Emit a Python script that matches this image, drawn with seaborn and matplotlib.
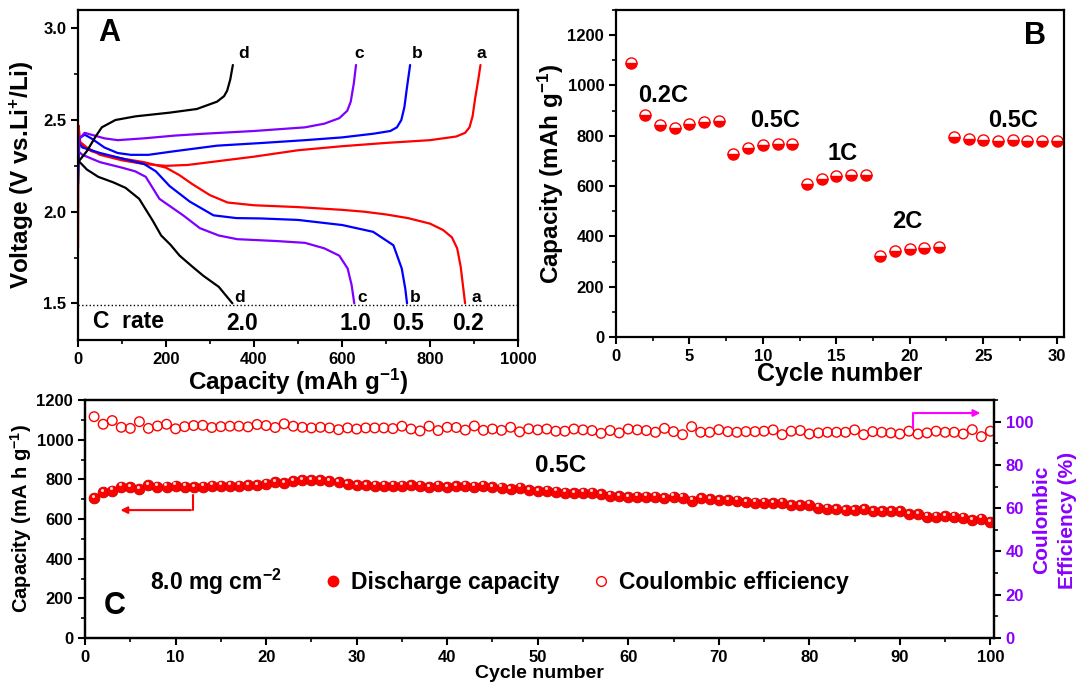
import numpy as np
import pandas as pd
import matplotlib
matplotlib.use('Agg')
import matplotlib.pyplot as plt
import matplotlib.transforms as mtransforms
from matplotlib.ticker import MultipleLocator
from matplotlib.lines import Line2D
import seaborn as sns

# ---- panel A: charge / discharge profiles (mAh g-1, V) ----
cap_a_dis = [0, 2, 10, 30, 60, 100, 150, 200, 230, 260, 300, 340, 400, 500, 600, 650, 700, 750, 800, 830, 850, 862, 870, 875, 880]
volt_a_dis = [2.40, 2.38, 2.36, 2.33, 2.31, 2.29, 2.27, 2.24, 2.20, 2.15, 2.09, 2.05, 2.035, 2.025, 2.01, 2.0, 1.985, 1.965, 1.935, 1.90, 1.86, 1.80, 1.70, 1.60, 1.50]
cap_a_chg = [0, 1, 5, 20, 50, 100, 150, 200, 250, 300, 400, 500, 600, 700, 800, 860, 880, 890, 897, 903, 910, 915]
volt_a_chg = [1.80, 2.47, 2.38, 2.35, 2.31, 2.28, 2.26, 2.25, 2.255, 2.27, 2.30, 2.335, 2.357, 2.375, 2.39, 2.41, 2.43, 2.46, 2.52, 2.62, 2.72, 2.80]

cap_b_dis = [0, 10, 50, 100, 150, 177, 208, 254, 308, 360, 416, 500, 601, 671, 717, 736, 744, 748]
volt_b_dis = [2.38, 2.35, 2.32, 2.29, 2.26, 2.22, 2.14, 2.055, 1.98, 1.965, 1.963, 1.955, 1.927, 1.89, 1.817, 1.69, 1.58, 1.50]
cap_b_chg = [0, 3, 15, 30, 60, 90, 120, 160, 220, 316, 420, 516, 600, 671, 710, 725, 735, 742, 748, 755]
volt_b_chg = [2.15, 2.40, 2.42, 2.40, 2.35, 2.32, 2.31, 2.31, 2.33, 2.36, 2.375, 2.39, 2.405, 2.425, 2.44, 2.46, 2.50, 2.57, 2.68, 2.80]

cap_c_dis = [0, 10, 50, 100, 130, 154, 185, 239, 277, 320, 362, 450, 516, 560, 594, 613, 622, 628]
volt_c_dis = [2.33, 2.31, 2.27, 2.24, 2.22, 2.19, 2.07, 1.98, 1.91, 1.87, 1.85, 1.84, 1.83, 1.80, 1.76, 1.69, 1.60, 1.50]
cap_c_chg = [0, 4, 15, 30, 60, 90, 150, 220, 285, 400, 516, 560, 594, 612, 620, 627, 632]
volt_c_chg = [2.28, 2.40, 2.43, 2.42, 2.40, 2.39, 2.40, 2.415, 2.425, 2.44, 2.46, 2.48, 2.51, 2.55, 2.60, 2.70, 2.80]

cap_d_dis = [0, 20, 46, 80, 108, 139, 170, 189, 210, 231, 260, 285, 320, 351]
volt_d_dis = [2.28, 2.23, 2.19, 2.16, 2.13, 2.07, 1.95, 1.87, 1.82, 1.76, 1.70, 1.65, 1.59, 1.50]
cap_d_chg = [0, 20, 40, 54, 85, 131, 208, 270, 316, 332, 339, 346, 352]
volt_d_chg = [2.27, 2.33, 2.41, 2.46, 2.50, 2.52, 2.54, 2.56, 2.60, 2.63, 2.66, 2.72, 2.80]

curve_names = ['a', 'b', 'c', 'd']
rate_labels = ['0.2', '0.5', '1.0', '2.0']
top_label_x = [916, 770, 640, 376]
bottom_label_x = [906, 767, 646, 368]
rate_label_x = [887, 750, 630, 374]

# ---- panel B: rate capability ----
rate_cycles = list(range(1, 31))
rate_capacity = [1090, 882, 842, 830, 848, 856, 858, 728, 750, 762, 766, 768,
                 608, 628, 640, 643, 645, 323, 342, 350, 355, 358,
                 795, 786, 783, 778, 783, 780, 779, 780]
rate_text = ['0.2C', '0.5C', '1C', '2C', '0.5C']
rate_text_x = [3.2, 10.8, 15.4, 19.8, 27.0]
rate_text_y = [960, 860, 730, 460, 860]

# ---- panel C: long cycling at 0.5C ----
cycles = list(range(1, 101))
discharge = [707, 735, 743, 763, 762, 751, 771, 763, 763, 768, 763, 762, 763, 768, 768, 768, 768, 771, 771, 779,
             785, 783, 791, 795, 795, 795, 791, 785, 775, 771, 771, 768, 768, 768, 768, 771, 768, 762, 768, 762,
             765, 768, 763, 768, 762, 758, 751, 758, 746, 741, 743, 738, 733, 730, 733, 733, 727, 718, 717, 710,
             713, 713, 713, 705, 713, 708, 693, 705, 700, 696, 696, 693, 686, 683, 683, 680, 683, 670, 670, 673,
             658, 653, 649, 646, 646, 649, 641, 641, 638, 638, 626, 626, 612, 612, 616, 612, 607, 596, 602, 584]
efficiency = [102.3, 98.8, 100.5, 97.4, 96.9, 100.0, 96.9, 98.0, 98.8, 96.7, 97.7, 98.2, 98.3, 97.3, 97.7, 97.9, 97.9, 97.6, 98.7, 98.2,
              97.3, 99.0, 97.9, 97.4, 97.1, 97.4, 97.1, 96.3, 97.1, 96.6, 97.1, 97.1, 97.1, 96.8, 97.9, 96.6, 95.7, 97.9, 95.9, 97.4,
              97.3, 96.1, 98.0, 96.0, 96.6, 96.0, 97.4, 95.3, 96.7, 96.2, 96.6, 95.6, 95.6, 96.6, 96.2, 95.9, 94.6, 95.9, 94.8, 96.6,
              96.2, 95.9, 95.1, 96.9, 95.4, 94.0, 97.7, 95.1, 95.1, 96.3, 95.4, 95.1, 95.4, 95.4, 95.6, 96.2, 94.0, 95.6, 95.9, 94.3,
              94.8, 95.1, 95.1, 95.1, 96.2, 94.0, 95.4, 95.1, 94.8, 94.3, 95.6, 94.3, 94.8, 95.6, 95.1, 95.1, 94.3, 96.3, 93.1, 95.6]

RED = '#ff0000'
BLUE = '#0000ff'
PURPLE = '#8000ff'
VIOLET = '#8a00ff'

sns.set_style('ticks')
plt.rcParams['font.family'] = ['Liberation Sans', 'DejaVu Sans']
plt.rcParams['font.weight'] = 'bold'
plt.rcParams['axes.labelweight'] = 'bold'
plt.rcParams['mathtext.fontset'] = 'custom'
plt.rcParams['mathtext.rm'] = 'Liberation Sans:bold'
plt.rcParams['mathtext.bf'] = 'Liberation Sans:bold'
plt.rcParams['mathtext.default'] = 'rm'
plt.rcParams['axes.linewidth'] = 1.6
for key in ['text.color', 'axes.labelcolor', 'axes.edgecolor', 'xtick.color', 'ytick.color']:
    plt.rcParams[key] = 'black'


def style_axis(ax, size=12):
    ax.tick_params(which='major', direction='out', length=5, width=1.5, labelsize=size)
    ax.tick_params(which='minor', direction='out', length=3, width=1.2)
    for lab in ax.get_xticklabels() + ax.get_yticklabels():
        lab.set_fontweight('bold')


fig = plt.figure(figsize=(10.78, 6.89), dpi=100)

# ---------------- A ----------------
axA = fig.add_axes([0.0724, 0.5065, 0.408, 0.479])
profiles = [
    (cap_a_dis, volt_a_dis, cap_a_chg, volt_a_chg, RED),
    (cap_b_dis, volt_b_dis, cap_b_chg, volt_b_chg, BLUE),
    (cap_c_dis, volt_c_dis, cap_c_chg, volt_c_chg, PURPLE),
    (cap_d_dis, volt_d_dis, cap_d_chg, volt_d_chg, 'black'),
]
for cd, vd, cc, vc, col in profiles:
    sns.lineplot(x=cd, y=vd, sort=False, color=col, lw=1.6, ax=axA)
    sns.lineplot(x=cc, y=vc, sort=False, color=col, lw=1.6, ax=axA)
axA.axhline(1.49, color='black', ls=':', lw=1.0)
for i, name in enumerate(curve_names):
    axA.text(top_label_x[i], 2.86, name, fontsize=12.5, fontweight='bold', ha='center', va='center')
    axA.text(bottom_label_x[i], 1.53, name, fontsize=12.5, fontweight='bold', ha='center', va='center')
    axA.text(rate_label_x[i], 1.39, rate_labels[i], fontsize=16.5, fontweight='bold', ha='center', va='center')
axA.text(35, 1.40, 'C  rate', fontsize=16.5, fontweight='bold', ha='left', va='center')
axA.text(0.045, 0.975, 'A', transform=axA.transAxes, fontsize=22, fontweight='bold', va='top')
axA.set_xlim(0, 1000)
axA.set_ylim(1.3, 3.1)
axA.xaxis.set_major_locator(MultipleLocator(200))
axA.xaxis.set_minor_locator(MultipleLocator(100))
axA.yaxis.set_minor_locator(MultipleLocator(0.25))
axA.set_yticks([1.5, 2.0, 2.5, 3.0])
axA.set_xlabel('Capacity (mAh g$^{-1}$)', fontsize=17.5, fontweight='bold', labelpad=0)
axA.set_ylabel('Voltage (V vs.Li$^{+}$/Li)', fontsize=17.5, fontweight='bold', labelpad=5)
style_axis(axA)

# ---------------- B ----------------
axB = fig.add_axes([0.5714, 0.5109, 0.4156, 0.4746])
sns.lineplot(x=rate_cycles, y=rate_capacity, ax=axB, linestyle='', marker='o',
             markersize=8, fillstyle='bottom', markerfacecolor=RED,
             markerfacecoloralt='white', markeredgecolor=RED, markeredgewidth=1.0)
for t, x, y in zip(rate_text, rate_text_x, rate_text_y):
    axB.text(x, y, t, fontsize=17, fontweight='bold', ha='center', va='center')
axB.text(0.96, 0.965, 'B', transform=axB.transAxes, fontsize=22, fontweight='bold', ha='right', va='top')
axB.set_xlim(0, 30.5)
axB.set_ylim(0, 1300)
axB.xaxis.set_major_locator(MultipleLocator(5))
axB.xaxis.set_minor_locator(MultipleLocator(2.5))
axB.yaxis.set_major_locator(MultipleLocator(200))
axB.yaxis.set_minor_locator(MultipleLocator(100))
axB.set_xlabel('Cycle number', fontsize=18, fontweight='bold', labelpad=-1)
axB.set_ylabel('Capacity (mAh g$^{-1}$)', fontsize=17.5, fontweight='bold', labelpad=1)
style_axis(axB)

# ---------------- C ----------------
axC = fig.add_axes([0.0789, 0.074, 0.8432, 0.3454])
axC2 = axC.twinx()
sns.scatterplot(x=cycles, y=discharge, ax=axC, color=RED, s=60, edgecolor='#d00000', linewidth=0.6, zorder=3)
hl = mtransforms.offset_copy(axC.transData, fig=fig, x=-0.8, y=1.6, units='points')
sns.scatterplot(x=cycles, y=discharge, ax=axC, color='#ffd0d0', s=5, linewidth=0, transform=hl, zorder=4)
sns.scatterplot(x=cycles, y=efficiency, ax=axC2, facecolor='none', edgecolor=RED, s=48, linewidth=1.0, marker='o')

# guide arrows
axC.plot([11.9, 11.9], [720, 645], color=RED, lw=1.5)
axC.annotate('', xy=(3.6, 645), xytext=(12.0, 645),
             arrowprops=dict(arrowstyle='-|>', color=RED, lw=1.5, mutation_scale=10))
axC2.plot([91.4, 91.4], [97, 104], color='#ff00ff', lw=1.5)
axC2.annotate('', xy=(99.2, 104), xytext=(91.3, 104),
              arrowprops=dict(arrowstyle='-|>', color='#ff00ff', lw=1.5, mutation_scale=10))

axC.text(52.5, 872, '0.5C', fontsize=17.5, fontweight='bold', ha='center', va='center')
axC.text(3.3, 160, 'C', fontsize=22, fontweight='bold', ha='center', va='center')
axC.text(7.2, 282, '8.0 mg cm$^{-2}$', fontsize=16.5, fontweight='bold', ha='left', va='center')

handles = [Line2D([], [], ls='', marker='o', color=RED, markersize=7.5),
           Line2D([], [], ls='', marker='o', mfc='none', mec=RED, markersize=7, mew=1.0)]
leg = axC.legend(handles, ['Discharge capacity', 'Coulombic efficiency'], ncol=2,
                 loc='center left', bbox_to_anchor=(0.24, 0.235), frameon=False,
                 prop={'size': 16.5, 'weight': 'bold'}, handlelength=0.8, handletextpad=0.4,
                 columnspacing=1.4)

axC.set_xlim(0, 100.4)
axC.set_ylim(0, 1200)
axC2.set_ylim(0, 110)
axC.xaxis.set_major_locator(MultipleLocator(10))
axC.xaxis.set_minor_locator(MultipleLocator(5))
axC.yaxis.set_major_locator(MultipleLocator(200))
axC.yaxis.set_minor_locator(MultipleLocator(100))
axC2.yaxis.set_major_locator(MultipleLocator(20))
axC2.yaxis.set_minor_locator(MultipleLocator(10))
axC.set_xlabel('Cycle number', fontsize=14, fontweight='bold', labelpad=0)
axC.set_ylabel('Capacity (mA h g$^{-1}$)', fontsize=14.5, fontweight='bold', labelpad=2)
axC2.set_ylabel('')
style_axis(axC)
style_axis(axC2)
axC2.tick_params(axis='y', colors='black', labelcolor=VIOLET)
fig.text(0.9665, 0.245, 'Coulombic', rotation=90, color=VIOLET, fontsize=15,
         fontweight='bold', ha='center', va='center')
fig.text(0.9905, 0.245, 'Efficiency (%)', rotation=90, color=VIOLET, fontsize=15,
         fontweight='bold', ha='center', va='center')

fig.savefig('out.png', dpi=100)
